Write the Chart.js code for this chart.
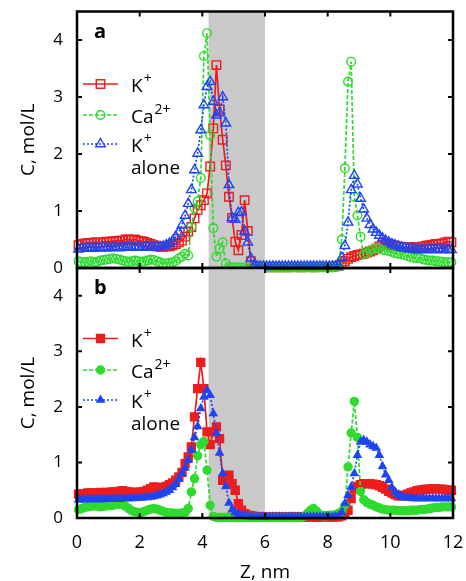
<!DOCTYPE html>
<html><head><meta charset="utf-8">
<script src="https://cdn.jsdelivr.net/npm/chart.js@4/dist/chart.umd.min.js"></script>
<style>
html,body{margin:0;padding:0;background:#fff;}
#wrap{position:relative;width:466px;height:581px;}
canvas{position:absolute;left:0;top:0;}
</style></head><body>
<div id="wrap"><canvas id="ca" width="466" height="581"></canvas><canvas id="cb" width="466" height="581"></canvas></div>
<script>
// Z bin centres (nm)
const zBins = [
0.05,0.15,0.25,0.35,0.45,0.55,0.65,0.75,0.85,0.95,
1.05,1.15,1.25,1.35,1.45,1.55,1.65,1.75,1.85,1.95,
2.05,2.15,2.25,2.35,2.45,2.55,2.65,2.75,2.85,2.95,
3.05,3.15,3.25,3.35,3.45,3.55,3.65,3.75,3.85,3.95,
4.05,4.15,4.25,4.35,4.45,4.55,4.65,4.75,4.85,4.95,
5.05,5.15,5.25,5.35,5.45,5.55,5.65,5.75,5.85,5.95,
6.05,6.15,6.25,6.35,6.45,6.55,6.65,6.75,6.85,6.95,
7.05,7.15,7.25,7.35,7.45,7.55,7.65,7.75,7.85,7.95,
8.05,8.15,8.25,8.35,8.45,8.55,8.65,8.75,8.85,8.95,
9.05,9.15,9.25,9.35,9.45,9.55,9.65,9.75,9.85,9.95,
10.05,10.15,10.25,10.35,10.45,10.55,10.65,10.75,10.85,10.95,
11.05,11.15,11.25,11.35,11.45,11.55,11.65,11.75,11.85,11.95];

// Panel a
const kA = [
0.40,0.42,0.43,0.44,0.44,0.45,0.45,0.44,0.45,0.46,
0.46,0.47,0.47,0.48,0.48,0.50,0.50,0.49,0.50,0.48,
0.47,0.46,0.44,0.42,0.40,0.38,0.37,0.37,0.38,0.38,
0.40,0.42,0.45,0.48,0.55,0.64,0.72,0.87,1.02,1.10,
1.19,1.31,1.78,2.45,3.56,2.78,2.25,1.80,1.25,0.88,
0.46,0.31,0.58,1.19,0.65,0.12,0.03,0.02,0.02,0.02,
0.02,0.01,0.02,0.02,0.01,0.02,0.02,0.01,0.02,0.02,
0.02,0.01,0.02,0.02,0.02,0.01,0.02,0.02,0.02,0.02,
0.02,0.02,0.03,0.04,0.08,0.12,0.16,0.19,0.21,0.23,
0.24,0.25,0.27,0.29,0.31,0.34,0.38,0.41,0.43,0.42,
0.40,0.39,0.38,0.37,0.36,0.36,0.36,0.37,0.37,0.37,
0.38,0.39,0.40,0.41,0.42,0.42,0.43,0.45,0.46,0.45];
const caA = [
0.12,0.10,0.10,0.11,0.12,0.10,0.11,0.13,0.14,0.15,
0.16,0.17,0.16,0.15,0.13,0.12,0.11,0.12,0.13,0.12,
0.11,0.12,0.13,0.15,0.14,0.12,0.10,0.08,0.08,0.09,
0.10,0.12,0.17,0.20,0.25,0.22,0.72,1.05,1.17,1.58,
3.72,4.12,2.33,0.70,0.20,0.34,0.45,0.08,0.02,0.01,
0.01,0.01,0.01,0.01,0.01,0.01,0.01,0.01,0.01,0.01,
0.01,0.01,0.01,0.01,0.01,0.01,0.01,0.01,0.01,0.01,
0.01,0.01,0.01,0.01,0.01,0.01,0.01,0.01,0.01,0.01,
0.01,0.01,0.02,0.03,0.50,1.75,3.27,3.62,1.25,0.92,
0.55,0.24,0.26,0.30,0.33,0.35,0.34,0.32,0.31,0.30,
0.28,0.26,0.25,0.24,0.23,0.21,0.19,0.18,0.17,0.17,
0.15,0.14,0.13,0.13,0.12,0.12,0.11,0.10,0.10,0.10];
const kAloneA = [
0.33,0.34,0.34,0.35,0.35,0.34,0.35,0.35,0.36,0.35,
0.35,0.36,0.36,0.35,0.36,0.36,0.37,0.36,0.36,0.37,
0.36,0.36,0.37,0.37,0.36,0.37,0.37,0.38,0.40,0.43,
0.47,0.55,0.63,0.75,0.92,1.13,1.37,1.72,2.01,2.42,
2.86,3.18,3.27,2.92,2.68,2.72,3.00,2.54,1.46,0.88,
0.85,0.97,0.98,0.64,0.45,0.17,0.04,0.03,0.03,0.03,
0.03,0.03,0.03,0.03,0.03,0.03,0.03,0.03,0.03,0.03,
0.03,0.03,0.03,0.03,0.03,0.03,0.03,0.03,0.03,0.03,
0.03,0.03,0.03,0.04,0.18,0.39,0.80,1.37,1.62,1.47,
1.22,1.03,0.87,0.76,0.68,0.62,0.57,0.52,0.48,0.45,
0.42,0.40,0.38,0.36,0.35,0.34,0.33,0.33,0.32,0.32,
0.32,0.32,0.33,0.32,0.32,0.33,0.32,0.32,0.32,0.32];

// Panel b
const kB = [
0.43,0.44,0.44,0.45,0.45,0.45,0.45,0.46,0.45,0.46,
0.46,0.47,0.47,0.48,0.49,0.48,0.47,0.46,0.46,0.46,
0.47,0.48,0.50,0.53,0.56,0.55,0.54,0.55,0.57,0.60,
0.63,0.68,0.74,0.82,0.98,1.10,1.28,1.82,2.33,2.80,
2.33,1.55,1.32,1.55,1.64,1.43,0.68,0.74,0.77,0.62,
0.50,0.26,0.14,0.08,0.05,0.04,0.03,0.02,0.02,0.02,
0.02,0.01,0.02,0.01,0.02,0.02,0.01,0.02,0.02,0.01,
0.02,0.02,0.01,0.02,0.02,0.02,0.01,0.02,0.02,0.02,
0.02,0.02,0.02,0.02,0.04,0.08,0.14,0.35,0.52,0.57,
0.60,0.62,0.62,0.62,0.61,0.60,0.58,0.55,0.52,0.48,
0.45,0.42,0.40,0.40,0.41,0.43,0.45,0.47,0.49,0.50,
0.51,0.52,0.52,0.53,0.53,0.52,0.52,0.51,0.50,0.50];
const caB = [
0.15,0.17,0.19,0.20,0.21,0.22,0.21,0.20,0.21,0.22,
0.22,0.23,0.24,0.25,0.24,0.21,0.17,0.13,0.11,0.10,
0.10,0.12,0.14,0.16,0.17,0.16,0.14,0.12,0.10,0.09,
0.09,0.08,0.08,0.09,0.10,0.17,0.47,0.71,1.12,1.32,
1.38,0.86,0.23,0.03,0.01,0.01,0.01,0.01,0.01,0.01,
0.01,0.01,0.01,0.01,0.01,0.01,0.01,0.01,0.01,0.01,
0.01,0.01,0.01,0.01,0.01,0.01,0.01,0.01,0.01,0.01,
0.01,0.01,0.03,0.08,0.14,0.17,0.12,0.06,0.04,0.04,
0.05,0.05,0.06,0.08,0.12,0.23,0.92,1.53,2.10,1.45,
0.48,0.33,0.28,0.25,0.23,0.20,0.18,0.16,0.15,0.14,
0.14,0.14,0.13,0.13,0.13,0.13,0.14,0.14,0.14,0.15,
0.15,0.16,0.17,0.18,0.19,0.19,0.20,0.20,0.20,0.20];
const kAloneB = [
0.33,0.33,0.33,0.34,0.33,0.34,0.34,0.33,0.34,0.34,
0.34,0.34,0.35,0.34,0.35,0.35,0.35,0.35,0.36,0.36,
0.36,0.37,0.37,0.38,0.39,0.40,0.42,0.44,0.47,0.50,
0.55,0.61,0.70,0.80,0.90,1.04,1.22,1.45,1.65,1.97,
2.18,2.30,2.21,1.88,1.53,1.17,0.80,0.57,0.27,0.15,
0.10,0.07,0.05,0.04,0.03,0.03,0.02,0.02,0.02,0.02,
0.02,0.02,0.02,0.02,0.02,0.02,0.02,0.02,0.02,0.02,
0.02,0.02,0.02,0.02,0.02,0.02,0.02,0.02,0.02,0.02,
0.02,0.02,0.03,0.04,0.10,0.26,0.41,0.56,0.80,1.13,
1.37,1.40,1.37,1.32,1.29,1.26,1.13,0.93,0.78,0.68,
0.55,0.47,0.42,0.39,0.37,0.36,0.36,0.35,0.35,0.35,
0.35,0.35,0.35,0.35,0.35,0.35,0.35,0.35,0.35,0.35];

const xTicks = [0,2,4,6,8,10,12];
const yTicks = [0,1,2,3,4];
const membrane = [4.2, 6.0];
const seriesNames = ['K', 'Ca', 'K'];
const seriesSups = ['+', '2+', '+'];
const seriesSecond = ['', '', 'alone'];

const RED = '#ee1c1c', GREEN = '#2edb2e', BLUE = '#1f45f0';
const FONT = '"Open Sans", "DejaVu Sans", sans-serif';

function pts(arr){ return zBins.map((z,i)=>({x:z, y:arr[i]})); }

function drawMarker(ctx, style, x, y, r, fill, color, bw){
  ctx.save();
  ctx.setLineDash([]);
  ctx.lineWidth = bw; ctx.strokeStyle = color; ctx.fillStyle = color;
  ctx.beginPath();
  if (style === 'rect') { const s = Math.SQRT1_2*r; ctx.rect(x-s, y-s, 2*s, 2*s); }
  else if (style === 'circle') { ctx.arc(x, y, r, 0, Math.PI*2); }
  else { let a = 0; ctx.moveTo(x+Math.sin(a)*r, y-Math.cos(a)*r); a += 2*Math.PI/3;
    ctx.lineTo(x+Math.sin(a)*r, y-Math.cos(a)*r); a += 2*Math.PI/3;
    ctx.lineTo(x+Math.sin(a)*r, y-Math.cos(a)*r); ctx.closePath(); }
  if (fill) ctx.fill();
  ctx.stroke();
  ctx.restore();
}

const framePlugin = {
  id: 'frame',
  beforeDatasetsDraw(chart){
    const {ctx, chartArea:a, scales:{x}} = chart;
    ctx.save();
    ctx.fillStyle = '#c9c9c9';
    const x1 = x.getPixelForValue(membrane[0]), x2 = x.getPixelForValue(membrane[1]);
    ctx.fillRect(x1, a.top, x2-x1, a.bottom-a.top);
    ctx.restore();
  },
  afterDatasetsDraw(chart, args, opts){
    const {ctx, chartArea:a, scales:{x, y}} = chart;
    ctx.save();
    ctx.strokeStyle = '#000'; ctx.lineWidth = 2;
    const tl = 5;
    ctx.beginPath();
    xTicks.forEach(v=>{ const px = x.getPixelForValue(v);
      ctx.moveTo(px, a.bottom); ctx.lineTo(px, a.bottom-tl);
      ctx.moveTo(px, a.top); ctx.lineTo(px, a.top+tl); });
    yTicks.forEach(v=>{ const py = y.getPixelForValue(v);
      ctx.moveTo(a.left, py); ctx.lineTo(a.left+tl, py);
      ctx.moveTo(a.right, py); ctx.lineTo(a.right-tl, py); });
    ctx.stroke();
    ctx.lineWidth = 2.5;
    ctx.strokeRect(a.left, a.top, a.right-a.left, a.bottom-a.top);
    // panel letter
    ctx.fillStyle = '#000';
    ctx.font = 'bold 20px ' + FONT;
    ctx.textBaseline = 'alphabetic';
    ctx.fillText(opts.letter, a.left+17, a.top+26);
    // legend
    const rows = opts.rows;
    chart.data.datasets.forEach((ds, i)=>{
      const ry = a.top + rows[i];
      const x0 = a.left + 6, x1 = a.left + 41;
      ctx.save();
      ctx.strokeStyle = ds.borderColor; ctx.lineWidth = ds.borderWidth;
      ctx.setLineDash(ds.borderDash || []);
      ctx.beginPath(); ctx.moveTo(x0, ry); ctx.lineTo(x1, ry); ctx.stroke();
      ctx.restore();
      drawMarker(ctx, ds.pointStyle, (x0+x1)/2, ry, ds.pointRadius, opts.filled, ds.borderColor, ds.pointBorderWidth);
      ctx.fillStyle = '#000';
      ctx.font = '19px ' + FONT;
      const tx = a.left + 54;
      ctx.fillText(seriesNames[i], tx, ry + 8);
      const w = ctx.measureText(seriesNames[i]).width;
      ctx.font = '14px ' + FONT;
      ctx.fillText(seriesSups[i], tx + w + 1, ry - 1);
      if (seriesSecond[i]) { ctx.font = '19px ' + FONT; ctx.fillText(seriesSecond[i], tx, ry + 30); }
    });
    ctx.restore();
  }
};

function makeDatasets(filled){
  const bg = c => filled ? c : 'rgba(0,0,0,0)';
  return [
    {data: pts(filled ? kB : kA), borderColor: RED, backgroundColor: bg(RED), pointBackgroundColor: bg(RED),
     borderWidth: 1.7, pointStyle: 'rect', pointRadius: filled ? 5.6 : 6, pointBorderWidth: 1.4, order: 3},
    {data: pts(filled ? caB : caA), borderColor: GREEN, backgroundColor: bg(GREEN), pointBackgroundColor: bg(GREEN),
     borderWidth: 1.7, borderDash: [4,2], pointStyle: 'circle', pointRadius: filled ? 4 : 4.3, pointBorderWidth: 1.4, order: 2},
    {data: pts(filled ? kAloneB : kAloneA), borderColor: BLUE, backgroundColor: bg(BLUE), pointBackgroundColor: bg(BLUE),
     borderWidth: 1.7, borderDash: [2,2], pointStyle: 'triangle', pointRadius: filled ? 4.2 : 5.5, pointBorderWidth: 1.4, order: 1}
  ].map(d => Object.assign(d, {fill:false, tension:0, clip:false, pointHoverRadius: d.pointRadius}));
}

function makeChart(id, filled, showX, padding, letter, rows){
  return new Chart(document.getElementById(id), {
    type: 'line',
    data: {datasets: makeDatasets(filled)},
    options: {
      responsive: false, animation: false, devicePixelRatio: 1,
      layout: {padding},
      events: [],
      plugins: {legend:{display:false}, tooltip:{enabled:false}, frame:{letter, rows, filled}},
      scales: {
        x: {type:'linear', min:0, max:12, display: showX,
            afterFit: s => { s.height = showX ? 63 : 0; s.paddingLeft = 0; s.paddingRight = 0; },
            grid:{display:false, drawTicks:false}, border:{display:false},
            ticks:{stepSize:2, includeBounds:false, padding:14, color:'#000', font:{family:FONT, size:18}},
            title:{display:true, text:'Z, nm', color:'#000', font:{family:FONT, size:19}, padding:{top:0,bottom:-3}}},
        y: {type:'linear', min:0, max:4.5,
            afterFit: s => { s.width = 77; s.paddingTop = 0; s.paddingBottom = 0; },
            grid:{display:false, drawTicks:false}, border:{display:false},
            ticks:{stepSize:1, includeBounds:false, padding:14, color:'#000', font:{family:FONT, size:17}},
            title:{display:true, text:'C, mol/L', color:'#000', font:{family:FONT, size:19}, padding:{top:17,bottom:0}}}
      }
    },
    plugins: [framePlugin]
  });
}

makeChart('ca', false, false, {top:11.5, right:13, bottom:313, left:0}, 'a', [72.5, 103.5, 132.5]);
makeChart('cb', true, true, {top:268, right:13, bottom:0, left:0}, 'b', [70.5, 102, 132]);
</script>
</body></html>
